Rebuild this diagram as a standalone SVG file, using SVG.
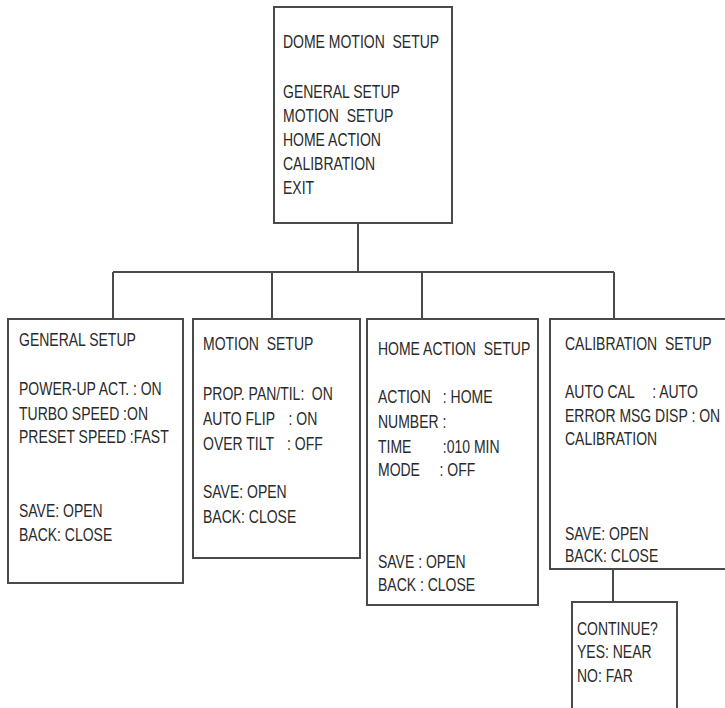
<svg xmlns="http://www.w3.org/2000/svg" width="725" height="708" viewBox="0 0 725 708">
<style>
.box{fill:#fff;stroke:#4a4a4a;stroke-width:2}
.ln{fill:none;stroke:#4a4a4a;stroke-width:2}
.t{font-family:"Liberation Sans",Arial,sans-serif;font-size:17.5px;fill:#2a2a2a}
</style>
<rect width="725" height="708" fill="#fff"/>
<g id="connectors">
<path class="ln" d="M358 223V272M113 272H614M113 272V319M272 272V319M422 272V319M614 272V319M613 569V602"/>
</g>
<g id="dome-motion-setup">
<rect class="box" x="274" y="7" width="178" height="216"/>
<text class="t" xml:space="preserve" transform="matrix(0.8 0 0 1 283 0)"><tspan x="0" y="48">DOME MOTION  SETUP</tspan><tspan x="0" y="98">GENERAL SETUP</tspan><tspan x="0" y="122">MOTION  SETUP</tspan><tspan x="0" y="146">HOME ACTION</tspan><tspan x="0" y="170">CALIBRATION</tspan><tspan x="0" y="194">EXIT</tspan></text>
</g>
<g id="general-setup">
<rect class="box" x="8" y="319" width="175" height="264"/>
<text class="t" xml:space="preserve" transform="matrix(0.8 0 0 1 19 0)"><tspan x="0" y="346">GENERAL SETUP</tspan><tspan x="0" y="395">POWER-UP ACT. : ON</tspan><tspan x="0" y="420">TURBO SPEED :ON</tspan><tspan x="0" y="443">PRESET SPEED :FAST</tspan><tspan x="0" y="517">SAVE: OPEN</tspan><tspan x="0" y="541">BACK: CLOSE</tspan></text>
</g>
<g id="motion-setup">
<rect class="box" x="193" y="319" width="167" height="239"/>
<text class="t" xml:space="preserve" transform="matrix(0.8 0 0 1 203 0)"><tspan x="0" y="350">MOTION  SETUP</tspan><tspan x="0" y="400">PROP. PAN/TIL:</tspan><tspan x="136" y="400">ON</tspan><tspan x="0" y="425">AUTO FLIP</tspan><tspan x="107" y="425">: ON</tspan><tspan x="0" y="450">OVER TILT</tspan><tspan x="105" y="450">: OFF</tspan><tspan x="0" y="498">SAVE: OPEN</tspan><tspan x="0" y="523">BACK: CLOSE</tspan></text>
</g>
<g id="home-action-setup">
<rect class="box" x="367" y="319" width="171" height="286"/>
<text class="t" xml:space="preserve" transform="matrix(0.8 0 0 1 378 0)"><tspan x="0" y="355">HOME ACTION  SETUP</tspan><tspan x="0" y="403">ACTION</tspan><tspan x="81" y="403">: HOME</tspan><tspan x="0" y="428">NUMBER :</tspan><tspan x="0" y="453">TIME</tspan><tspan x="81" y="453">:010 MIN</tspan><tspan x="0" y="476">MODE</tspan><tspan x="77" y="476">: OFF</tspan><tspan x="0" y="568">SAVE : OPEN</tspan><tspan x="0" y="591">BACK : CLOSE</tspan></text>
</g>
<g id="calibration-setup">
<rect class="box" x="550" y="319" width="185" height="250"/>
<text class="t" xml:space="preserve" transform="matrix(0.8 0 0 1 565 0)"><tspan x="0" y="350">CALIBRATION  SETUP</tspan><tspan x="0" y="398">AUTO CAL</tspan><tspan x="109" y="398">: AUTO</tspan><tspan x="0" y="422">ERROR MSG DISP : ON</tspan><tspan x="0" y="445">CALIBRATION</tspan><tspan x="0" y="540">SAVE: OPEN</tspan><tspan x="0" y="562">BACK: CLOSE</tspan></text>
</g>
<g id="continue">
<rect class="box" x="572" y="602" width="105" height="120"/>
<text class="t" xml:space="preserve" transform="matrix(0.8 0 0 1 577 0)"><tspan x="0" y="635">CONTINUE?</tspan><tspan x="0" y="658">YES: NEAR</tspan><tspan x="0" y="682">NO: FAR</tspan></text>
</g>
</svg>
